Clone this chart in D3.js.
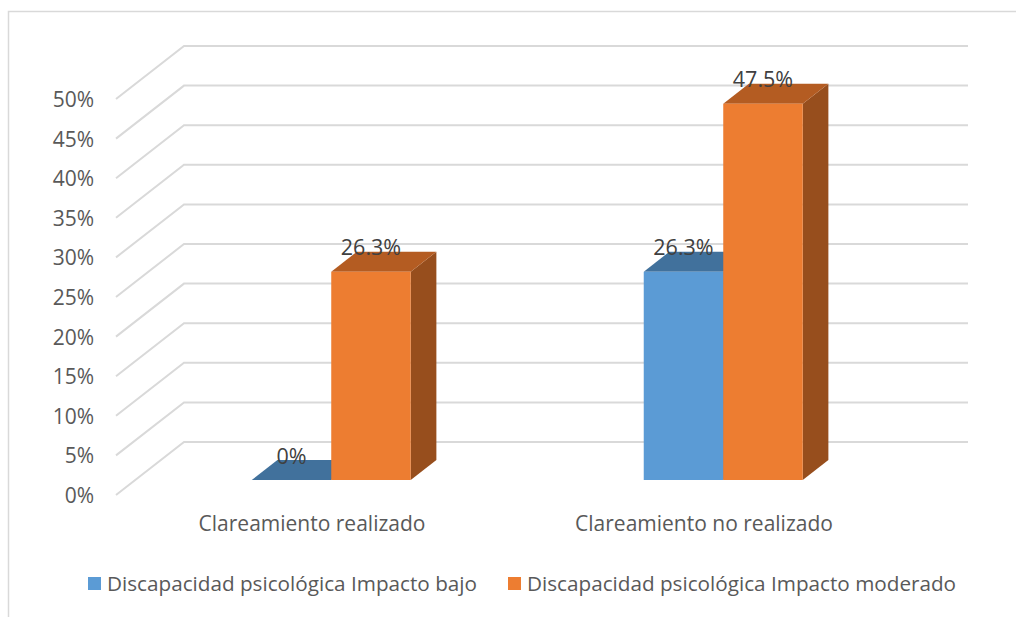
<!DOCTYPE html>
<html>
<head>
<meta charset="utf-8">
<script src="https://cdn.jsdelivr.net/npm/d3@7"></script>
<style>
  html, body { margin: 0; padding: 0; background: #fff; }
  svg { display: block; }
  text { font-family: "Open Sans", "DejaVu Sans", sans-serif; }
</style>
</head>
<body>
<svg id="chart" width="1016" height="617"></svg>
<script>
// Chart data
const categories = ["Clareamiento realizado", "Clareamiento no realizado"];
const series = ["Discapacidad psicológica Impacto bajo", "Discapacidad psicológica Impacto moderado"];
const impactoBajo = [0, 26.3];
const impactoModerado = [26.3, 47.5];
const tickValues = [0, 5, 10, 15, 20, 25, 30, 35, 40, 45, 50];

const seriesValues = [impactoBajo, impactoModerado];
const palette = [
  { front: "#5B9BD5", top: "#41719C", side: "#3A6590" },
  { front: "#ED7D31", top: "#B45C22", side: "#974E1D" }
];

const svg = d3.select("#chart");

// Outer frame (continues past the right and bottom edges)
svg.append("rect")
  .attr("x", 8.5).attr("y", 11.5)
  .attr("width", 1030).attr("height", 640)
  .attr("fill", "none").attr("stroke", "#D9D9D9").attr("stroke-width", 1.5);

// 3D projection: floor front-left corner, depth vector
const origin = { x: 116, y: 495 };
const depth = { dx: 68, dy: -53 };
const floorFront = [116, 900];

const h = d3.scaleLinear().domain([0, 50]).range([0, 396]);
const x0 = d3.scaleBand().domain(categories).range(floorFront);
const groupWidth = 159;
const x1 = d3.scaleBand().domain(series).range([0, groupWidth]);

const proj = (x, v, t) => [x + depth.dx * t, origin.y + depth.dy * t - h(v)];

// Gridlines: left wall diagonal + back wall horizontal
const grid = svg.append("g").attr("fill", "none").attr("stroke", "#D9D9D9").attr("stroke-width", 2);
tickValues.forEach(v => {
  const a = proj(origin.x, v, 0);
  const b = proj(origin.x, v, 1);
  const c = proj(floorFront[1], v, 1);
  grid.append("polyline").attr("points", [a, b, c].map(p => p.join(",")).join(" "));
});

// Axis tick labels
svg.append("g").selectAll("text").data(tickValues).join("text")
  .attr("x", 94)
  .attr("y", d => proj(origin.x, d, 0)[1])
  .attr("text-anchor", "end")
  .attr("dominant-baseline", "central")
  .attr("font-size", 21)
  .attr("fill", "#595959")
  .text(d => d + "%");

// Bars (front plane and back plane depth)
const t1 = 0.283, t2 = 0.66;
const bars = svg.append("g");
categories.forEach((cat, ci) => {
  series.forEach((s, si) => {
    const v = seriesValues[si][ci];
    const xl = x0(cat) + (x0.bandwidth() - groupWidth) / 2 + x1(s);
    const xr = xl + x1.bandwidth();
    const col = palette[si];
    const fbl = proj(xl, 0, t1), fbr = proj(xr, 0, t1);
    const ftl = proj(xl, v, t1), ftr = proj(xr, v, t1);
    const bbr = proj(xr, 0, t2), btl = proj(xl, v, t2), btr = proj(xr, v, t2);
    const poly = pts => pts.map(p => p.join(",")).join(" ");
    bars.append("polygon").attr("points", poly([ftr, btr, bbr, fbr])).attr("fill", col.side);
    bars.append("polygon").attr("points", poly([ftl, ftr, btr, btl])).attr("fill", col.top);
    bars.append("polygon").attr("points", poly([fbl, fbr, ftr, ftl])).attr("fill", col.front);
  });
});

// Value labels
const labels = svg.append("g");
categories.forEach((cat, ci) => {
  series.forEach((s, si) => {
    const v = seriesValues[si][ci];
    const xc = x0(cat) + (x0.bandwidth() - groupWidth) / 2 + x1(s) + x1.bandwidth() / 2;
    const p = proj(xc, v, t1);
    labels.append("text")
      .attr("x", p[0]).attr("y", p[1] - 25)
      .attr("text-anchor", "middle")
      .attr("dominant-baseline", "central")
      .attr("font-size", 21.5)
      .attr("fill", "#404040")
      .text(v + "%");
  });
});

// Category labels
svg.append("g").selectAll("text").data(categories).join("text")
  .attr("x", d => x0(d) + x0.bandwidth() / 2)
  .attr("y", 523)
  .attr("text-anchor", "middle")
  .attr("dominant-baseline", "central")
  .attr("font-size", 21)
  .attr("fill", "#595959")
  .text(d => d);

// Legend
const legendItems = [
  { name: series[0], color: palette[0].front, x: 88 },
  { name: series[1], color: palette[1].front, x: 508 }
];
const legend = svg.append("g");
legendItems.forEach(it => {
  legend.append("rect").attr("x", it.x).attr("y", 577).attr("width", 13).attr("height", 13).attr("fill", it.color);
  legend.append("text")
    .attr("x", it.x + 19).attr("y", 583)
    .attr("dominant-baseline", "central")
    .attr("font-size", 20.7)
    .attr("fill", "#595959")
    .text(it.name);
});
</script>
</body>
</html>
